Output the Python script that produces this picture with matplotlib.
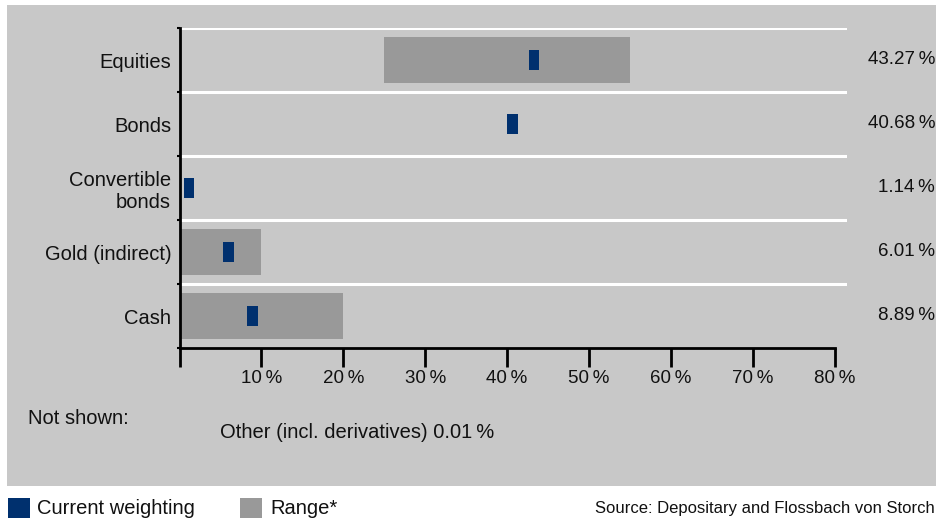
import numpy as np
import matplotlib
matplotlib.use('Agg')
import matplotlib.pyplot as plt
import matplotlib.transforms as mtransforms
from matplotlib.patches import Rectangle

plt.rcParams['font.family'] = ['Liberation Sans', 'DejaVu Sans']
plt.rcParams['font.size'] = 14.5

# data
categories = ['Equities', 'Bonds', 'Convertible\nbonds', 'Gold (indirect)', 'Cash']
current = [43.27, 40.68, 1.14, 6.01, 8.89]
range_low = [25, np.nan, np.nan, 0, 0]
range_high = [55, np.nan, np.nan, 10, 20]
value_labels = ['43.27\u2009%', '40.68\u2009%', '1.14\u2009%', '6.01\u2009%', '8.89\u2009%']
x_ticks = [0, 10, 20, 30, 40, 50, 60, 70, 80]
x_tick_labels = [''] + [f'{t}\u2009%' for t in x_ticks[1:]]

navy = '#00306e'
range_gray = '#999999'
panel = '#c8c8c8'
txt = '#111111'

fig = plt.figure(figsize=(9.36, 5.22), dpi=100)
fig.patch.set_facecolor('white')

# grey background panel (behind the axes)
fig.patches.append(Rectangle((7 / 936, 36 / 522), 929 / 936, 481 / 522,
                             transform=fig.transFigure, facecolor=panel,
                             edgecolor='none', zorder=-10))

ax = fig.add_axes([179.5 / 936, 174 / 522, 667.5 / 936, 320 / 522])
ax.set_facecolor('none')
ax.set_zorder(1)

y = np.arange(len(categories))

# range bars
lo = np.array(range_low, dtype=float)
hi = np.array(range_high, dtype=float)
ok = ~np.isnan(lo)
ax.barh(y[ok], hi[ok] - lo[ok], left=lo[ok], height=0.72,
        color=range_gray, zorder=2)

# current weighting markers
mw = 1.3
ax.barh(y, [mw] * len(current), left=np.array(current) - mw / 2, height=0.3,
        color=navy, zorder=3)

# white separator lines
for b in np.arange(-0.5, len(categories) - 1, 1.0):
    ax.axhline(b, color='white', lw=2.2, zorder=1)

ax.set_xlim(0, 81.5)
ax.set_ylim(len(categories) - 0.5, -0.5)

ax.spines['top'].set_visible(False)
ax.spines['right'].set_visible(False)
ax.spines['bottom'].set_bounds(0, 80)
ax.spines['bottom'].set_linewidth(2)
ax.spines['left'].set_linewidth(2)

ax.set_xticks(x_ticks)
ax.set_xticklabels(x_tick_labels, color=txt, fontsize=13.5)
ax.tick_params(axis='x', length=14, width=2, direction='out', pad=2)

ax.set_yticks(y)
ax.set_yticklabels(categories, color=txt)
ax.tick_params(axis='y', length=0, pad=6)
ax.set_yticks(np.arange(-0.5, len(categories), 1.0), minor=True)
ax.tick_params(axis='y', which='minor', length=2, width=1.5)

# values on the right
trans = mtransforms.blended_transform_factory(fig.transFigure, ax.transData)
for yi, lab in zip(y, value_labels):
    ax.text(0.999, yi, lab, transform=trans, ha='right', va='center',
            color=txt, fontsize=13.5)

# notes
fig.text(28 / 936, 1 - 418 / 522, 'Not shown:', va='center', color=txt)
fig.text(220 / 936, 1 - 433 / 522, 'Other (incl. derivatives) 0.01\u2009%',
         va='center', color=txt)

# legend
fig.patches.append(Rectangle((8 / 936, 4 / 522), 22 / 936, 20 / 522,
                             transform=fig.transFigure, facecolor=navy,
                             edgecolor='none'))
fig.text(37 / 936, 1 - 508 / 522, 'Current weighting', va='center', color=txt)
fig.patches.append(Rectangle((240 / 936, 4 / 522), 22 / 936, 20 / 522,
                             transform=fig.transFigure, facecolor=range_gray,
                             edgecolor='none'))
fig.text(270 / 936, 1 - 508 / 522, 'Range*', va='center', color=txt)
fig.text(0.999, 1 - 508 / 522, 'Source: Depositary and Flossbach von Storch',
         ha='right', va='center', fontsize=12, color=txt)

fig.savefig('out.png', dpi=100)
